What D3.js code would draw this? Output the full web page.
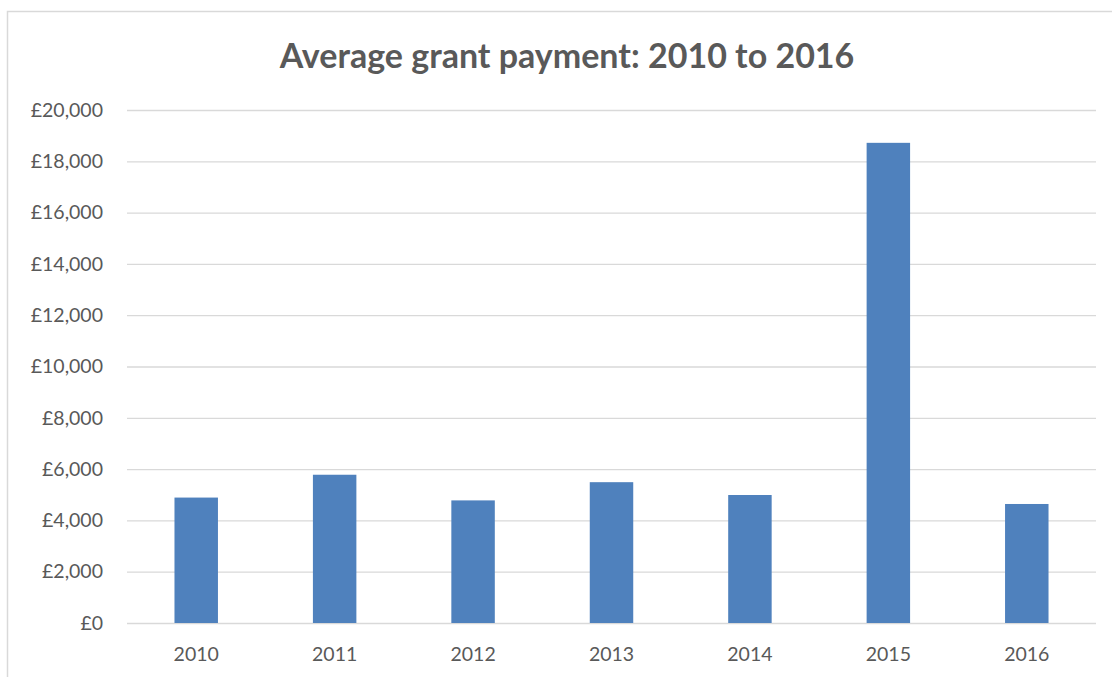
<!DOCTYPE html>
<html>
<head>
<meta charset="utf-8">
<script src="https://cdn.jsdelivr.net/npm/d3@7"></script>
<style>
  body { margin: 0; background: #fff; }
  svg { display: block; }
  .tick text, .title { fill: #595959; font-family: Lato, "Open Sans", sans-serif; }
</style>
</head>
<body>
<svg id="chart" width="1112" height="677"></svg>
<script>
const years = ['2010', '2011', '2012', '2013', '2014', '2015', '2016'];
const payments = [4890, 5780, 4780, 5490, 4990, 18720, 4640];
const yTicks = [0, 2000, 4000, 6000, 8000, 10000, 12000, 14000, 16000, 18000, 20000];
const chartTitle = 'Average grant payment: 2010 to 2016';

const width = 1112, height = 677;
const plot = { left: 127, right: 1096, top: 110, bottom: 623 };

const svg = d3.select('#chart');

// outer chart frame (runs off the right/bottom edge as in the source)
svg.append('rect')
  .attr('x', 7.5).attr('y', 11.5)
  .attr('width', width).attr('height', height)
  .attr('fill', '#fff')
  .attr('stroke', '#d9d9d9')
  .attr('stroke-width', 1.5);

const x = d3.scaleBand()
  .domain(years)
  .range([plot.left, plot.right])
  .paddingInner(0.686)
  .paddingOuter(0.343);

const y = d3.scaleLinear()
  .domain([0, 20000])
  .range([plot.bottom, plot.top]);

const fmt = d => '£' + d3.format(',')(d);

// gridlines + y labels
const yAxis = svg.append('g')
  .attr('transform', `translate(${plot.left},0)`)
  .call(d3.axisLeft(y).tickValues(yTicks).tickFormat(fmt).tickSize(-(plot.right - plot.left)).tickPadding(24));
yAxis.select('.domain').remove();
yAxis.selectAll('.tick line').attr('stroke', '#d9d9d9').attr('stroke-width', 1.3);
yAxis.selectAll('.tick text').attr('font-size', 19.5);

// bars
svg.append('g').selectAll('rect')
  .data(years.map((d, i) => ({ year: d, value: payments[i] })))
  .join('rect')
  .attr('x', d => x(d.year))
  .attr('y', d => y(d.value))
  .attr('width', x.bandwidth())
  .attr('height', d => y(0) - y(d.value))
  .attr('fill', '#4f81bd');

// x labels
const xAxis = svg.append('g')
  .attr('transform', `translate(0,${plot.bottom})`)
  .call(d3.axisBottom(x).tickSize(0).tickPadding(24));
xAxis.select('.domain').remove();
xAxis.selectAll('.tick text').attr('font-size', 19.5);

svg.append('text')
  .attr('class', 'title')
  .attr('x', (277 + 857) / 2)
  .attr('y', 68)
  .attr('text-anchor', 'middle')
  .attr('font-size', 34)
  .attr('font-weight', 'bold')
  .text(chartTitle);
</script>
</body>
</html>
